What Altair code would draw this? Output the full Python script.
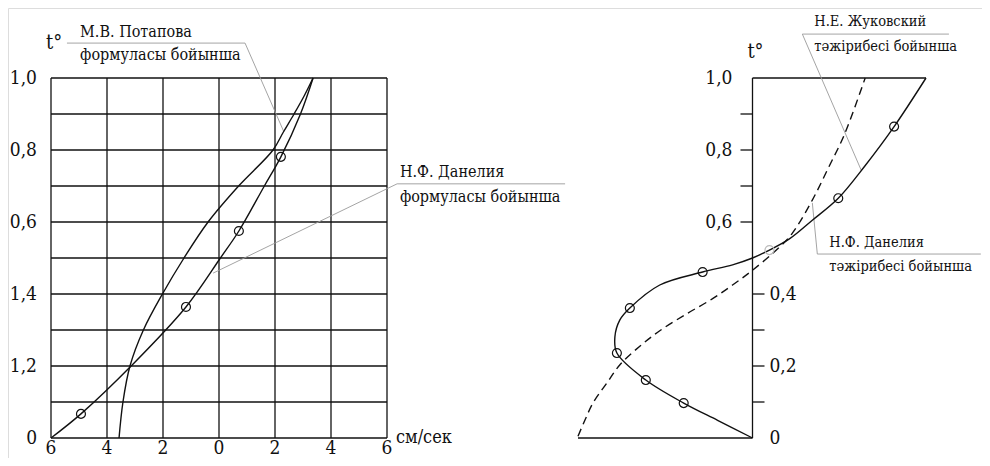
import altair as alt
import pandas as pd

# ---------------- Left panel (velocity, cm/s  vs  t) ----------------
pot_x = [-3.57, -3.43, -3.18, -2.70, -2.02, -1.25, -0.39, 0.70, 1.93, 2.30, 2.68, 3.04, 3.36]
pot_t = [0.0, 0.1, 0.2, 0.3, 0.4, 0.5, 0.6, 0.7, 0.8, 0.85, 0.9, 0.95, 1.0]

danf_x = [-6.0, -4.93, -3.14, -1.18, 0.05, 0.71, 1.62, 2.21, 2.91, 3.36]
danf_t = [0.0, 0.067, 0.2, 0.364, 0.5, 0.575, 0.7, 0.781, 0.9, 1.0]

danf_pts_x = [-4.93, -1.18, 0.71, 2.21]
danf_pts_t = [0.067, 0.364, 0.575, 0.781]

left_xticks = [-6, -4, -2, 0, 2, 4, 6]
left_xlabels = ["6", "4", "2", "0", "2", "4", "6"]
left_hgrid = [0.0, 0.1, 0.2, 0.3, 0.4, 0.5, 0.6, 0.7, 0.8, 0.9, 1.0]
left_yticks = [0.0, 0.2, 0.4, 0.6, 0.8, 1.0]
left_ylabels = ["0", "1,2", "1,4", "0,6", "0,8", "1,0"]

# ---------------- Right panel ----------------
dane_x = [0.0, -1.4, -2.76, -4.28, -5.44, -5.52, -5.32, -4.92, -3.72, -2.0, -0.8, 0.0, 0.68,
          1.48, 2.4, 3.44, 4.5, 5.68, 6.96]
dane_t = [0.0, 0.049, 0.097, 0.161, 0.236, 0.281, 0.328, 0.361, 0.425, 0.461, 0.481, 0.5, 0.522,
          0.553, 0.605, 0.666, 0.755, 0.865, 1.0]
dane_pts_x = [-2.76, -4.28, -5.44, -4.92, -2.0, 3.44, 5.68]
dane_pts_t = [0.097, 0.161, 0.236, 0.361, 0.461, 0.666, 0.865]
faint_pts_x = [0.68]
faint_pts_t = [0.522]

zh_x = [-7.0, -6.72, -6.4, -5.84, -5.3, -4.52, -3.72, -2.64, -1.6, -0.8, 0.0, 1.08, 1.6, 2.4,
        3.04, 3.68, 4.52]
zh_t = [0.005, 0.05, 0.097, 0.153, 0.205, 0.255, 0.298, 0.345, 0.387, 0.425, 0.466, 0.53, 0.569,
        0.661, 0.75, 0.842, 1.0]

right_ticks_left = [0.6, 0.7, 0.8, 0.9]
right_ticks_right = [0.1, 0.2, 0.3, 0.4]
right_labels_left_t = [0.6, 0.8, 1.0]
right_labels_left = ["0,6", "0,8", "1,0"]
right_labels_right_t = [0.0, 0.2, 0.4]
right_labels_right = ["0", "0,2", "0,4"]

FONT = "'DejaVu Serif Condensed', 'DejaVu Serif', serif"
INK = "#111111"
LEAD = "#9a9a9a"

LX = alt.Scale(domain=[-6, 6], range=[43, 379], nice=False, zero=False)
RX = alt.Scale(domain=[-7, 7], range=[570, 919], nice=False, zero=False)
YS = alt.Scale(domain=[0, 1], range=[430, 70], nice=False, zero=False)


def X(field, sc):
    return alt.X(field, type="quantitative", scale=sc, axis=None)


def Y(field):
    return alt.Y(field, type="quantitative", scale=YS, axis=None)


def line_df(xs, ts):
    return pd.DataFrame({"x": xs, "t": ts, "i": list(range(len(xs)))})


def curve(xs, ts, sc, dash=None, color=INK, width=1.4, interp="catmull-rom"):
    kw = dict(color=color, strokeWidth=width, interpolate=interp)
    if dash:
        kw["strokeDash"] = dash
    return alt.Chart(line_df(xs, ts)).mark_line(**kw).encode(
        x=X("x", sc), y=Y("t"), order=alt.Order("i:Q"))


def circles(xs, ts, sc, color=INK):
    return alt.Chart(pd.DataFrame({"x": xs, "t": ts})).mark_point(
        shape="circle", filled=False, size=80, color=color, strokeWidth=1.2, opacity=1
    ).encode(x=X("x", sc), y=Y("t"))


def texts(rows, sc, size=17, align="left"):
    df = pd.DataFrame(rows, columns=["x", "t", "label"])
    return alt.Chart(df).mark_text(font=FONT, fontSize=size, align=align, baseline="middle",
                                   color=INK).encode(x=X("x", sc), y=Y("t"), text="label:N")


def leader(xs, ts, sc):
    return curve(xs, ts, sc, color=LEAD, width=0.9, interp="linear")


# ---- left layer ----
vgrid = alt.Chart(pd.DataFrame({"x": left_xticks, "t0": 0.0, "t1": 1.0})).mark_rule(
    color=INK, strokeWidth=1.3).encode(x=X("x", LX), y=Y("t0"), y2="t1")
hgrid = alt.Chart(pd.DataFrame({"t": left_hgrid, "x0": -6, "x1": 6})).mark_rule(
    color=INK, strokeWidth=1.3).encode(x=X("x0", LX), x2="x1", y=Y("t"))

xlab = alt.Chart(pd.DataFrame({"x": left_xticks, "t": 0.0, "label": left_xlabels})).mark_text(
    font=FONT, fontSize=19, baseline="middle", align="center", dy=10, color=INK
).encode(x=X("x", LX), y=Y("t"), text="label:N")
ylab = alt.Chart(pd.DataFrame({"x": -6, "t": left_yticks, "label": left_ylabels})).mark_text(
    font=FONT, fontSize=19, baseline="middle", align="right", dx=-14, color=INK
).encode(x=X("x", LX), y=Y("t"), text="label:N")

left_texts = texts([(-5.89, 1.097, "t°")], LX, size=20, align="center")
left_notes = texts([
    (-4.96, 1.128, "М.В. Потапова"),
    (-4.96, 1.064, "формуласы бойынша"),
    (6.46, 0.739, "Н.Ф. Данелия"),
    (6.46, 0.669, "формуласы бойынша"),
], LX, size=16)
unit = texts([(6.32, 0.0, "см/сек")], LX, size=18)

left = alt.layer(
    vgrid, hgrid,
    leader([-5.43, 0.93, 2.32], [1.097, 1.097, 0.85], LX),
    leader([12.36, 6.36, -0.21], [0.706, 0.706, 0.458], LX),
    curve(pot_x, pot_t, LX),
    curve(danf_x, danf_t, LX),
    circles(danf_pts_x, danf_pts_t, LX),
    xlab, ylab, left_texts, left_notes, unit,
)

# ---- right layer ----
frame_v = alt.Chart(pd.DataFrame({"x": [0.0], "t0": [0.0], "t1": [1.0]})).mark_rule(
    color=INK, strokeWidth=1.3).encode(x=X("x", RX), y=Y("t0"), y2="t1")
frame_h = alt.Chart(pd.DataFrame({"x0": [0.0, -7.0], "x1": [6.96, 0.0], "t": [1.0, 0.0]})).mark_rule(
    color=INK, strokeWidth=1.3).encode(x=X("x0", RX), x2="x1", y=Y("t"))
ticks_l = alt.Chart(pd.DataFrame({"x": 0.0, "t": right_ticks_left})).mark_rule(
    color=INK, strokeWidth=1.3, x2Offset=-12).encode(x=X("x", RX), x2="x", y=Y("t"))
ticks_r = alt.Chart(pd.DataFrame({"x": 0.0, "t": right_ticks_right})).mark_rule(
    color=INK, strokeWidth=1.3, x2Offset=12).encode(x=X("x", RX), x2="x", y=Y("t"))
rlab_l = alt.Chart(pd.DataFrame({"x": 0.0, "t": right_labels_left_t, "label": right_labels_left})).mark_text(
    font=FONT, fontSize=19, baseline="middle", align="right", dx=-20, color=INK
).encode(x=X("x", RX), y=Y("t"), text="label:N")
rlab_r = alt.Chart(pd.DataFrame({"x": 0.0, "t": right_labels_right_t, "label": right_labels_right})).mark_text(
    font=FONT, fontSize=19, baseline="middle", align="left", dx=17, color=INK
).encode(x=X("x", RX), y=Y("t"), text="label:N")

right_texts = texts([(0.12, 1.072, "t°")], RX, size=20, align="center")
right_notes = texts([
    (2.48, 1.156, "Н.Е. Жуковский"),
    (2.48, 1.086, "тәжірибесі бойынша"),
    (3.08, 0.542, "Н.Ф. Данелия"),
    (3.08, 0.475, "тәжірибесі бойынша"),
], RX, size=14.5)

right = alt.layer(
    frame_v, frame_h, ticks_l, ticks_r,
    leader([7.88, 2.0, 4.36], [1.122, 1.122, 0.744], RX),
    leader([9.16, 2.6, 2.4], [0.511, 0.511, 0.653], RX),
    curve(zh_x, zh_t, RX, dash=[8, 5]),
    curve(dane_x, dane_t, RX),
    circles(dane_pts_x, dane_pts_t, RX),
    circles(faint_pts_x, faint_pts_t, RX, color="#bbbbbb"),
    rlab_l, rlab_r, right_texts, right_notes,
)

chart = alt.layer(left, right).resolve_scale(x="independent").properties(
    width=974, height=450, autosize=alt.AutoSizeParams(type="none"), padding=0
).configure_view(strokeWidth=0).configure(background="white")

chart.save("out.html", embed_options={"renderer": "svg", "actions": False})
